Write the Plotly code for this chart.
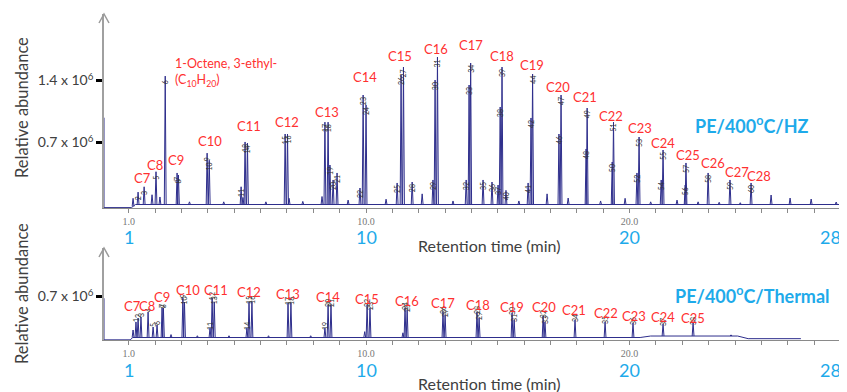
import numpy as np
import plotly.graph_objects as go

W, H = 847, 392
OFF = 8                     # page body margin of the browser page
FW, FH = W - OFF, H - OFF   # figure size so it fits the window

# ---------------- DATA ----------------
# Top panel: PE/400oC/HZ  (retention time in min, apex height in units of 1e6)
hz_t = [1.16, 1.35, 1.58, 1.88, 2.03, 2.18, 2.38, 2.83, 2.88, 3.30, 3.97, 4.05, 4.60,
        5.26, 5.33, 5.41, 5.50, 6.20, 6.93, 7.02, 7.08, 7.60, 8.33, 8.44, 8.56, 8.63,
        8.75, 8.90, 9.32, 9.77, 9.89, 10.00, 10.76, 11.18, 11.33, 11.42, 11.75, 12.13,
        12.54, 12.62, 12.71, 13.30, 13.80, 13.91, 13.97, 14.44, 14.78, 15.01, 15.09,
        15.16, 15.31, 15.80, 16.15, 16.26, 16.32, 16.87, 17.32, 17.40, 17.67, 18.35,
        18.39, 18.90, 19.34, 19.39, 19.83, 20.28, 20.36, 20.80, 21.20, 21.27, 21.80,
        22.11, 22.14, 22.60, 22.98, 23.40, 23.81, 24.20, 24.61, 25.37, 26.09, 26.89, 27.84]
hz_h = [0.07, 0.14, 0.20, 0.11, 0.37, 0.085, 1.45, 0.356, 0.333, 0.03, 0.58, 0.50, 0.03,
        0.20, 0.08, 0.706, 0.694, 0.03, 0.796, 0.796, 0.07, 0.035, 0.09, 0.93, 0.93, 0.446,
        0.277, 0.356, 0.05, 0.186, 1.236, 1.123, 0.06, 0.243, 1.462, 1.552, 0.254, 0.12,
        0.277, 1.405, 1.665, 0.04, 0.277, 1.349, 1.597, 0.277, 0.254, 0.22, 1.101,
        1.552, 0.16, 0.04, 0.243, 0.977, 1.473, 0.12, 0.796, 1.236, 0.073, 0.627,
        1.089, 0.04, 0.48, 0.931, 0.07, 0.356, 0.762, 0.03, 0.277, 0.615, 0.05,
        0.22, 0.469, 0.03, 0.356, 0.025, 0.277, 0.02, 0.243, 0.107, 0.073, 0.062, 0.028]
hz_id = ["", "2", "3", "", "5", "", "6", "7", "8", "", "9", "10", "",
         "11", "", "13", "14", "", "15", "16", "", "", "", "17", "18", "19",
         "20", "21", "", "22", "23", "24", "", "25", "26", "27", "28", "",
         "29", "30", "31", "", "32", "33", "34", "35", "36", "37", "38",
         "39", "40", "", "41", "42", "44", "", "46", "47", "", "48",
         "49", "", "50", "51", "", "52", "53", "", "54", "55", "",
         "56", "57", "", "58", "", "59", "", "60", "", "", "", ""]
hz_base_t = [0.057, 0.057, 1.10, 1.25, 28.25]
hz_base_v = [0.98, -0.035, -0.035, 0.0, 0.0]
hz_carbon = ["C7", "C8", "C9", "C10", "C11", "C12", "C13", "C14", "C15", "C16", "C17",
             "C18", "C19", "C20", "C21", "C22", "C23", "C24", "C25", "C26", "C27", "C28"]
hz_carbon_t = [1.50, 1.99, 2.79, 4.08, 5.56, 7.00, 8.52, 9.96, 11.29, 12.66, 13.98,
               15.16, 16.30, 17.29, 18.31, 19.30, 20.40, 21.27, 22.22, 23.17, 24.08, 24.91]
hz_carbon_v = [0.299, 0.446, 0.502, 0.717, 0.886, 0.931, 1.044, 1.44, 1.677, 1.756, 1.801,
               1.677, 1.575, 1.326, 1.214, 1.0, 0.864, 0.694, 0.559, 0.469, 0.367, 0.322]
hz_title = "PE/400<sup>o</sup>C/HZ"
octene_label = "1-Octene, 3-ethyl-<br>(C<sub>10</sub>H<sub>20</sub>)"
octene_t, octene_v = 2.68, 1.49

# Bottom panel: PE/400oC/Thermal
th_t = [1.16, 1.27, 1.35, 1.46, 1.73, 1.92, 2.07, 2.26, 2.31, 2.60, 3.05, 3.11, 3.60,
        4.08, 4.16, 4.24, 4.80, 5.48, 5.56, 5.67, 6.30, 7.04, 7.15, 7.90, 8.44, 8.56,
        8.67, 9.95, 10.04, 10.15, 11.40, 11.48, 11.56, 12.92, 13.00, 14.21, 14.29,
        15.54, 15.62, 16.72, 16.79, 17.93, 19.07, 20.13, 21.27, 22.41, 23.85]
th_h = [0.128, 0.265, 0.333, 0.35, 0.435, 0.179, 0.213, 0.504, 0.504, 0.05, 0.674, 0.606, 0.03,
        0.162, 0.674, 0.606, 0.03, 0.162, 0.606, 0.606, 0.03, 0.589, 0.589, 0.03, 0.162, 0.555,
        0.555, 0.10, 0.555, 0.504, 0.08, 0.504, 0.47, 0.435, 0.384, 0.435, 0.333,
        0.418, 0.30, 0.367, 0.265, 0.299, 0.265, 0.248, 0.23, 0.248, 0.045]
th_id = ["", "1", "2", "3", "4", "5", "6", "7", "8", "", "9", "10", "",
         "11", "12", "13", "", "14", "15", "16", "", "17", "18", "", "19", "20",
         "21", "", "22", "23", "", "24", "25", "26", "27", "28", "29",
         "30", "31", "32", "33", "34", "35", "36", "37", "38", ""]
th_base_t = [0.057, 0.057, 1.05, 1.15, 20.4, 20.8, 24.1, 24.5, 26.5]
th_base_v = [0.67, -0.04, -0.04, 0.0, 0.0, 0.025, 0.025, -0.02, -0.02]
th_carbon = ["C7", "C8", "C9", "C10", "C11", "C12", "C13", "C14", "C15", "C16", "C17",
             "C18", "C19", "C20", "C21", "C22", "C23", "C24", "C25"]
th_carbon_t = [1.12, 1.69, 2.26, 3.24, 4.31, 5.56, 7.04, 8.56, 10.04, 11.56, 12.92,
               14.25, 15.54, 16.76, 17.89, 19.11, 20.17, 21.27, 22.41]
th_carbon_v = [0.538, 0.538, 0.691, 0.811, 0.811, 0.777, 0.743, 0.691, 0.657, 0.623, 0.589,
               0.555, 0.521, 0.521, 0.47, 0.418, 0.367, 0.35, 0.333]
th_title = "PE/400<sup>o</sup>C/Thermal"

# Axes
x_major_vals = [1, 10, 20]
x_major_text = ["1.0", "10.0", "20.0"]
x_minor_vals = list(range(1, 29))
x_big_vals = [1, 10, 20, 28]
x_big_text = ["1", "10", "20", "28"]
y_top_vals = [0.7e6, 1.4e6]
y_top_text = ["0.7 x 10<sup>6</sup>", "1.4 x 10<sup>6</sup>"]
y_bot_vals = [0.7e6]
y_bot_text = ["0.7 x 10<sup>6</sup>"]
x_title = "Retention time (min)"
y_title = "Relative abundance"

# ---------------- STYLE ----------------
FONT = "Lato"
RED = "#ff3030"
BLUE = "#1eaaea"
NAVY = "#2e2e8c"
GREY_TXT = "#404040"


def px(x):
    return (x - OFF) / FW


def py(y):
    return 1 - (y - OFF) / FH


X0 = px(104)
XR = [0.057, 28.25]
top_dom = [py(208), py(14)]
bot_dom = [py(340), py(248)]
top_range = [-0.0395e6, 2.151e6]
bot_range = [-0.0427e6, 1.528e6]


def spikes(ts, hs, bt, bv, w=0.035):
    xs, ys = [], []
    for t, h in zip(ts, hs):
        b = float(np.interp(t, bt, bv))
        xs += [t - w, t, t + w, None]
        ys += [b * 1e6, h * 1e6, b * 1e6, None]
    return xs, ys


fig = go.Figure()

panels = [
    ("x", "y", hz_t, hz_h, hz_id, hz_base_t, hz_base_v, -0.062e6),
    ("x2", "y2", th_t, th_h, th_id, th_base_t, th_base_v, -0.10e6),
]
for xa, ya, ts, hs, ids, bt, bv, mark_y in panels:
    fig.add_trace(go.Scatter(x=bt, y=[v * 1e6 for v in bv], mode="lines",
                             line=dict(color=NAVY, width=1), xaxis=xa, yaxis=ya,
                             hoverinfo="skip", showlegend=False))
    sx, sy = spikes(ts, hs, bt, bv)
    fig.add_trace(go.Scatter(x=sx, y=sy, mode="lines", line=dict(color=NAVY, width=1),
                             xaxis=xa, yaxis=ya, hoverinfo="skip", showlegend=False))
    mt = [t for t, i in zip(ts, ids) if i]
    fig.add_trace(go.Scatter(x=mt, y=[mark_y] * len(mt), mode="markers",
                             marker=dict(symbol="line-ns", size=8,
                                         line=dict(color="#505050", width=0.8)),
                             cliponaxis=False, xaxis=xa, yaxis=ya,
                             hoverinfo="skip", showlegend=False))

ann = []
# peak id labels
for (xa, ya, ts, hs, ids, ysh) in [("x", "y", hz_t, hz_h, hz_id, -6), ("x2", "y2", th_t, th_h, th_id, 2)]:
    for t, h, i in zip(ts, hs, ids):
        if i:
            ann.append(dict(x=t, y=h * 1e6, xref=xa, yref=ya, text=i, showarrow=False,
                            xanchor="center", yanchor="middle",
                            textangle=-90, yshift=ysh, font=dict(family=FONT, size=7, color="#333333")))
# carbon labels
for xa, ya, labs, lt, lv in [("x", "y", hz_carbon, hz_carbon_t, hz_carbon_v),
                             ("x2", "y2", th_carbon, th_carbon_t, th_carbon_v)]:
    for lab, t, v in zip(labs, lt, lv):
        ann.append(dict(x=t, y=v * 1e6, xref=xa, yref=ya, text=lab, showarrow=False,
                        xanchor="center", yanchor="middle",
                        font=dict(family=FONT, size=13, color=RED)))
ann.append(dict(x=octene_t, y=octene_v * 1e6, xref="x", yref="y", text=octene_label,
                showarrow=False, xanchor="left", yanchor="middle", align="left",
                font=dict(family=FONT, size=12.5, color=RED)))
# panel titles
ann.append(dict(x=px(752), y=py(125), xref="paper", yref="paper", text=hz_title, showarrow=False,
                xanchor="center", yanchor="middle",
                font=dict(family=FONT, size=18, color=BLUE, weight="bold")))
ann.append(dict(x=px(752), y=py(295), xref="paper", yref="paper", text=th_title, showarrow=False,
                xanchor="center", yanchor="middle",
                font=dict(family=FONT, size=18, color=BLUE, weight="bold")))
# big blue x numbers
for xa, yy in [("x", 237), ("x2", 370)]:
    for v, s in zip(x_big_vals, x_big_text):
        last = v == x_big_vals[-1]
        ann.append(dict(x=v, y=py(yy), xref=xa, yref="paper", text=s, showarrow=False,
                        xanchor="right" if last else "center", yanchor="middle",
                        xshift=3 if last else 0,
                        font=dict(family=FONT, size=18, color=BLUE)))
# axis titles
for yy in [245, 383]:
    ann.append(dict(x=px(489), y=py(yy), xref="paper", yref="paper", text=x_title, showarrow=False,
                    xanchor="center", yanchor="middle",
                    font=dict(family=FONT, size=16, color=GREY_TXT)))
for yy in [108, 294]:
    ann.append(dict(x=px(22), y=py(yy), xref="paper", yref="paper", text=y_title, showarrow=False,
                    xanchor="center", yanchor="middle",
                    textangle=-90, font=dict(family=FONT, size=16.5, color=GREY_TXT)))

# arrowheads on y axes
shapes = []
for tip in [14, 248]:
    shapes.append(dict(type="path", xref="paper", yref="paper",
                       path=f"M {px(99)},{py(tip + 9)} L {px(104)},{py(tip)} L {px(109)},{py(tip + 9)}",
                       line=dict(color="#9a9a9a", width=1.5)))

xcommon = dict(domain=[X0, 1], range=XR, showline=True, linecolor="#8a8a8a", linewidth=1.2,
               ticks="outside", ticklen=4, tickcolor="#8a8a8a",
               tickmode="array", tickvals=x_major_vals, ticktext=x_major_text,
               minor=dict(tickmode="array", tickvals=x_minor_vals, ticks="outside",
                          ticklen=4, tickcolor="#8a8a8a", showgrid=False),
               showgrid=False, zeroline=False,
               tickfont=dict(family="Liberation Serif", size=10, color="#777777"))
ycommon = dict(showline=True, linecolor="#a0a0a0", linewidth=1.5, ticks="outside", ticklen=6,
               tickwidth=2.5, tickcolor="black", showgrid=False, zeroline=False,
               layer="below traces", tickfont=dict(family=FONT, size=14, color=GREY_TXT))

fig.update_layout(
    width=FW, height=FH, margin=dict(l=0, r=0, t=0, b=0),
    paper_bgcolor="white", plot_bgcolor="white", showlegend=False,
    xaxis=dict(anchor="y", **xcommon),
    xaxis2=dict(anchor="y2", **xcommon),
    yaxis=dict(anchor="x", domain=top_dom, range=top_range, tickvals=y_top_vals,
               ticktext=y_top_text, **ycommon),
    yaxis2=dict(anchor="x2", domain=bot_dom, range=bot_range, tickvals=y_bot_vals,
                ticktext=y_bot_text, **ycommon),
    annotations=ann, shapes=shapes,
)

fig.write_html("out.html")
